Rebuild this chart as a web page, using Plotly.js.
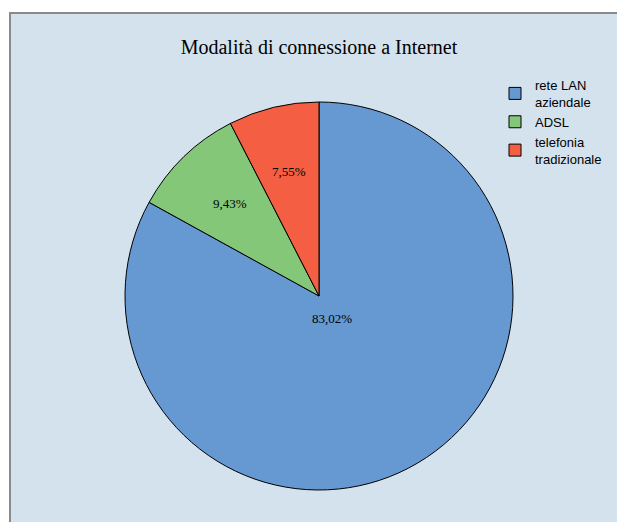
<!DOCTYPE html>
<html>
<head>
<meta charset="utf-8">
<script src="https://cdn.plot.ly/plotly-3.0.1.min.js"></script>
<style>
html,body{margin:0;padding:0;background:#ffffff;}
#chart{width:617px;height:522px;}
</style>
</head>
<body>
<div id="chart"></div>
<script>
// Data
const categories = ["rete LAN<br>aziendale", "ADSL", "telefonia<br>tradizionale"];
const values = [44, 5, 4];
const colors = ["#6699d2", "#85c778", "#f45e42"];
const chartTitle = "Modalità di connessione a Internet";
// label anchor positions (paper) for percentage texts
const labelPos = [[332/617, 1 - 318/522], [230/617, 1 - 204/522], [289/617, 1 - 171/522]];

const total = values.reduce((a, b) => a + b, 0);
const pctText = values.map(v => (v / total * 100).toFixed(2).replace('.', ',') + '%');

const trace = {
  type: 'pie',
  labels: categories,
  values: values,
  sort: false,
  direction: 'clockwise',
  rotation: 0,
  marker: {colors: colors, line: {color: '#000000', width: 1}},
  textinfo: 'none',
  hoverinfo: 'label+percent',
  domain: {x: [125/617, 513/617], y: [32/522, 420/522]}
};

const annotations = pctText.map((t, i) => ({
  text: t, xref: 'paper', yref: 'paper',
  x: labelPos[i][0], y: labelPos[i][1],
  showarrow: false, xanchor: 'center', yanchor: 'middle',
  font: {family: 'Liberation Serif, Times New Roman, serif', size: 13, color: '#000'}
}));

const layout = {
  width: 617, height: 522,
  margin: {l: 0, r: 0, t: 0, b: 0},
  paper_bgcolor: '#ffffff',
  title: {text: chartTitle, x: 319/617, xanchor: 'center', y: 1 - 47/522, yanchor: 'middle',
          font: {family: 'Liberation Serif, Times New Roman, serif', size: 20, color: '#000'}},
  shapes: [{type: 'rect', xref: 'paper', yref: 'paper', x0: 10/617, x1: 1.1, y0: -0.1, y1: 1 - 13/522,
            fillcolor: '#d4e2ed', line: {color: '#8a8a8a', width: 2}, layer: 'below'}],
  legend: {x: 495/617, xanchor: 'left', y: 1 - 70/522, yanchor: 'top', bgcolor: 'rgba(0,0,0,0)',
           font: {family: 'Liberation Sans, Arial, sans-serif', size: 13, color: '#000'}},
  showlegend: true,
  annotations: annotations
};

Plotly.newPlot('chart', [trace], layout, {displayModeBar: false, staticPlot: true});
</script>
</body>
</html>
